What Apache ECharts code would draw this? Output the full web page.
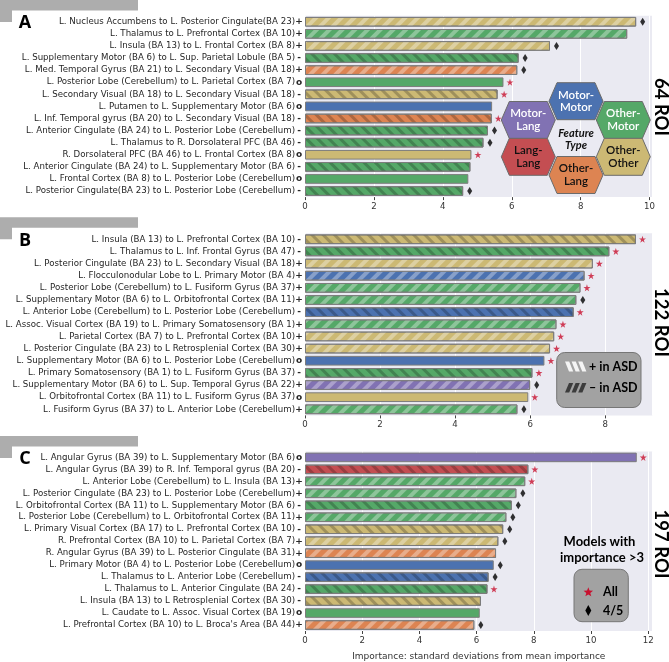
<!DOCTYPE html>
<html><head><meta charset="utf-8">
<script src="https://cdn.jsdelivr.net/npm/echarts@6/dist/echarts.min.js"></script>
<style>html,body{margin:0;padding:0;background:#fff}#c{width:669px;height:662px}</style>
</head><body><div id="c"></div><script>
// ---------- DATA ----------
const labelsA = [
 "L. Nucleus Accumbens to L. Posterior Cingulate(BA 23)",
 "L. Thalamus to L. Prefrontal Cortex (BA 10)",
 "L. Insula (BA 13) to L. Frontal Cortex (BA 8)",
 "L. Supplementary Motor (BA 6) to L. Sup. Parietal Lobule (BA 5)",
 "L. Med. Temporal Gyrus (BA 21) to L. Secondary Visual (BA 18)",
 "L. Posterior Lobe (Cerebellum) to L. Parietal Cortex (BA 7)",
 "L. Secondary Visual (BA 18) to L. Secondary Visual (BA 18)",
 "L. Putamen to L. Supplementary Motor (BA 6)",
 "L. Inf. Temporal gyrus (BA 20) to L. Secondary Visual (BA 18)",
 "L. Anterior Cingulate (BA 24) to L. Posterior Lobe (Cerebellum)",
 "L. Thalamus to R. Dorsolateral PFC (BA 46)",
 "R. Dorsolateral PFC (BA 46) to L. Frontal Cortex (BA 8)",
 "L. Anterior Cingulate (BA 24) to L. Supplementary Motor (BA 6)",
 "L. Frontal Cortex (BA 8) to L. Posterior Lobe (Cerebellum)",
 "L. Posterior Cingulate(BA 23) to L. Posterior Lobe (Cerebellum)"
];
const valuesA = [9.61, 9.35, 7.11, 6.20, 6.16, 5.76, 5.59, 5.43, 5.42, 5.31, 5.18, 4.83, 4.80, 4.74, 4.59];
const typesA  = ["OO","OM","OO","OM","OL","OM","OO","MM","OL","OM","OM","OO","OM","OM","OM"];
const signsA  = ["+","+","+","-","+","o","-","o","-","-","-","o","-","o","-"];
const markersA = ["d","","d","d","d","s","s","","s","d","d","s","","","d"];

const labelsB = [
 "L. Insula (BA 13) to L. Prefrontal Cortex (BA 10)",
 "L. Thalamus to L. Inf. Frontal Gyrus (BA 47)",
 "L. Posterior Cingulate (BA 23) to L. Secondary Visual (BA 18)",
 "L. Flocculonodular Lobe to L. Primary Motor (BA 4)",
 "L. Posterior Lobe (Cerebellum) to L. Fusiform Gyrus (BA 37)",
 "L. Supplementary Motor (BA 6) to L. Orbitofrontal Cortex (BA 11)",
 "L. Anterior Lobe (Cerebellum) to L. Posterior Lobe (Cerebellum)",
 "L. Assoc. Visual Cortex (BA 19) to L. Primary Somatosensory (BA 1)",
 "L. Parietal Cortex (BA 7) to L. Prefrontal Cortex (BA 10)",
 "L. Posterior Cingulate (BA 23) to L Retrosplenial Cortex (BA 30)",
 "L. Supplementary Motor (BA 6) to L. Posterior Lobe (Cerebellum)",
 "L. Primary Somatosensory (BA 1) to L. Fusiform Gyrus (BA 37)",
 "L. Supplementary Motor (BA 6) to L. Sup. Temporal Gyrus (BA 22)",
 "L. Orbitofrontal Cortex (BA 11) to L. Fusiform Gyrus (BA 37)",
 "L. Fusiform Gyrus (BA 37) to L. Anterior Lobe (Cerebellum)"
];
const valuesB = [8.82, 8.11, 7.67, 7.45, 7.34, 7.23, 7.16, 6.70, 6.64, 6.53, 6.38, 6.06, 6.00, 5.95, 5.66];
const typesB  = ["OO","OM","OO","MM","OM","OM","MM","OM","OO","OO","MM","OM","ML","OO","OM"];
const signsB  = ["-","-","+","+","+","+","-","+","+","+","o","-","+","o","+"];
const markersB = ["s","s","s","s","s","d","s","s","s","s","s","s","d","s","d"];

const labelsC = [
 "L. Angular Gyrus (BA 39) to L. Supplementary Motor (BA 6)",
 "L. Angular Gyrus (BA 39) to R. Inf. Temporal gyrus (BA 20)",
 "L. Anterior Lobe (Cerebellum) to L. Insula (BA 13)",
 "L. Posterior Cingulate (BA 23) to L. Posterior Lobe (Cerebellum)",
 "L. Orbitofrontal Cortex (BA 11) to L. Supplementary Motor (BA 6)",
 "L. Posterior Lobe (Cerebellum) to L. Orbitofrontal Cortex (BA 11)",
 "L. Primary Visual Cortex (BA 17) to L. Prefrontal Cortex (BA 10)",
 "R. Prefrontal Cortex (BA 10) to L. Parietal Cortex (BA 7)",
 "R. Angular Gyrus (BA 39) to L. Posterior Cingulate (BA 31)",
 "L. Primary Motor (BA 4) to L. Posterior Lobe (Cerebellum)",
 "L. Thalamus to L. Anterior Lobe (Cerebellum)",
 "L. Thalamus to L. Anterior Cingulate (BA 24)",
 "L. Insula (BA 13) to L Retrosplenial Cortex (BA 30)",
 "L. Caudate to L. Assoc. Visual Cortex (BA 19)",
 "L. Prefrontal Cortex (BA 10) to L. Broca's Area (BA 44)"
];
const valuesC = [11.60, 7.81, 7.70, 7.39, 7.23, 7.04, 6.93, 6.76, 6.68, 6.60, 6.42, 6.38, 6.15, 6.11, 5.92];
const typesC  = ["ML","LL","OM","OM","OM","OM","OO","OO","OL","MM","MM","OM","OO","OM","OL"];
const signsC  = ["o","-","+","+","-","+","-","+","+","o","-","-","-","o","+"];
const markersC = ["s","s","s","d","d","d","d","d","","d","d","s","","","d"];

const panelNames = ["A", "B", "C"];
const roiNames = ["64 ROI", "122 ROI", "197 ROI"];
const xMaxes = [10.07, 9.26, 12.15];
const xTitle = "Importance: standard deviations from mean importance";
const hexLegend = [
 {code:"MM", text:"Motor-\nMotor"}, {code:"ML", text:"Motor-\nLang"}, {code:"OM", text:"Other-\nMotor"},
 {code:"LL", text:"Lang-\nLang"}, {code:"OO", text:"Other-\nOther"}, {code:"OL", text:"Other-\nLang"}
];

// ---------- STYLE ----------
const typeColors = {MM:'#4c72b0', ML:'#8172b3', OM:'#55a868', LL:'#c44e52', OO:'#ccb974', OL:'#dd8452'};
const starPath = 'path://M50,2 L61.8,37.6 L99,37.6 L68.8,59.6 L80.3,95 L50,73 L19.7,95 L31.2,59.6 L1,37.6 L38.2,37.6 Z';
const decalPlus  = {symbol:'rect', symbolSize:1, dashArrayX:[1,0], dashArrayY:[4,4.5], rotation:-Math.PI/4, color:'rgba(255,255,255,0.33)'};
const decalMinus = {symbol:'rect', symbolSize:1, dashArrayX:[1,0], dashArrayY:[3,5], rotation:Math.PI/4, color:'rgba(0,0,0,0.22)'};

const grids = [
 {left:305, top:15.7, width:347, height:181.4},
 {left:305, top:233.2, width:347.5, height:182.2},
 {left:305, top:451.4, width:347.5, height:182}
];
const panels = [
 {labels:labelsA, values:valuesA, types:typesA, signs:signsA, markers:markersA},
 {labels:labelsB, values:valuesB, types:typesB, signs:signsB, markers:markersB},
 {labels:labelsC, values:valuesC, types:typesC, signs:signsC, markers:markersC}
];

const option = {animation:false, backgroundColor:'#fff', grid:[], xAxis:[], yAxis:[], series:[], graphic:[]};

panels.forEach((p, g) => {
 option.grid.push(Object.assign({show:true, backgroundColor:'#eaeaf2', borderWidth:0, containLabel:false}, grids[g]));
 const xa = {
  type:'value', gridIndex:g, min:0, max:xMaxes[g], interval:2,
  axisLine:{show:false},
  axisTick:{show:true, length:3, lineStyle:{color:'#444', width:1}},
  axisLabel:{fontFamily:'DejaVu Sans', fontSize:8.6, color:'#333', margin:5, showMaxLabel:false,
   formatter:v => (Math.abs(v % 2) < 1e-9 ? String(v) : '')},
  splitLine:{show:true, lineStyle:{color:'#ffffff', width:1}}
 };
 if (g === 2) {
  xa.name = xTitle; xa.nameLocation = 'middle'; xa.nameGap = 21;
  xa.nameTextStyle = {fontFamily:'DejaVu Sans', fontSize:9, color:'#333'};
 }
 option.xAxis.push(xa);
 option.yAxis.push({
  type:'category', gridIndex:g, data:p.labels, inverse:true,
  axisLine:{show:false}, axisTick:{show:false}, splitLine:{show:false},
  axisLabel:{margin:2, interval:0,
   formatter:(v, i) => '{t|' + v + '}{s|' + p.signs[i] + '}',
   rich:{
    t:{fontFamily:'DejaVu Sans', fontSize:8.65, color:'#262626'},
    s:{fontFamily:'DejaVu Sans', fontSize:9, fontWeight:'bold', color:'#262626', width:8, align:'center'}
   }}
 });
 option.series.push({
  type:'bar', xAxisIndex:g, yAxisIndex:g, barWidth:'80%', z:2,
  data:p.values.map((v, i) => {
   const st = {color:typeColors[p.types[i]], borderColor:'#7c7c7c', borderWidth:1};
   if (p.signs[i] === '+') st.decal = decalPlus;
   else if (p.signs[i] === '-') st.decal = decalMinus;
   return {value:v, itemStyle:st};
  })
 });
 const md = [];
 p.values.forEach((v, i) => {
  const m = p.markers[i];
  if (!m) return;
  md.push({value:[v, i], symbol: m === 's' ? starPath : 'diamond',
   symbolSize: m === 's' ? 7 : [5, 8],
   itemStyle:{color: m === 's' ? '#c8102e' : '#000'}});
 });
 option.series.push({type:'scatter', xAxisIndex:g, yAxisIndex:g, symbolOffset:[6.5, 0], z:3, data:md});
});

// ---------- GRAPHICS (annotations) ----------
const G = option.graphic;
function txt(x, y, text, font, fill, align, extra) {
 return Object.assign({type:'text', z:101, x:x, y:y, style:{text:text, font:font, fill:fill,
  align:align, verticalAlign:'middle', textAlign:align, textVerticalAlign:'middle'}}, extra || {});
}
const bracketTops = [0, 217.3, 436];
bracketTops.forEach((t, g) => {
 G.push({type:'polygon', shape:{points:[[0,t],[138,t],[138,t+10.5],[12,t+10.5],[12,t+22],[0,t+22]]},
  style:{fill:'#adadad'}});
 G.push(txt(25, t+23.2, panelNames[g], 'bold 18px "Open Sans"', '#000', 'center'));
});
const roiY = [107, 322.5, 544];
roiY.forEach((y, g) => {
 G.push(txt(660.5, y, roiNames[g], 'bold 18.5px Lato', '#000', 'center', {rotation:-Math.PI/2}));
});

// hexagon legend
const hexPos = {MM:[576,101.2], ML:[528.3,120], OM:[623.3,120], LL:[528.3,156.8], OO:[623.3,156.8], OL:[576,175]};
const hexText = {MM:'#fff', ML:'#fff', OM:'#fff', LL:'#111', OO:'#111', OL:'#111'};
hexLegend.forEach(h => {
 const [cx, cy] = hexPos[h.code];
 const hw = 27, fw = 19, hh = 18.5;
 G.push({type:'polygon', z:100, shape:{points:[[cx-hw,cy],[cx-fw,cy-hh],[cx+fw,cy-hh],[cx+hw,cy],[cx+fw,cy+hh],[cx-fw,cy+hh]]},
  style:{fill:typeColors[h.code], stroke:'#6b6b6b', lineWidth:1}});
 const t = txt(cx, cy, h.text, '600 11.5px Lato', hexText[h.code], 'center');
 t.style.lineHeight = 12.6;
 G.push(t);
});
const ft = txt(576, 139.5, 'Feature\nType', 'italic bold 11px Lato', '#111', 'center');
ft.style.lineHeight = 12.6;
G.push(ft);

// ASD legend
G.push({type:'rect', z:100, shape:{x:556.7, y:352.5, width:84.3, height:55, r:8}, style:{fill:'#a2a2a2', stroke:'#767676', lineWidth:1}});
for (let k = 0; k < 3; k++) {
 const x0 = 565 + 6.6 * k;
 G.push({type:'polygon', z:101, shape:{points:[[x0,361.5],[x0+4.2,361.5],[x0+8.2,371.5],[x0+4,371.5]]}, style:{fill:'#f4f4f4'}});
 G.push({type:'polygon', z:101, shape:{points:[[x0,392.5],[x0+4.2,392.5],[x0+8.2,383],[x0+4,383]]}, style:{fill:'#3c3c3c'}});
}
G.push(txt(589, 366.5, '+ in ASD', 'bold 12.5px Lato', '#000', 'left'));
G.push(txt(589, 388, '– in ASD', 'bold 12.5px Lato', '#000', 'left'));

// Models legend
G.push(txt(599.5, 541.5, 'Models with', 'bold 13px Lato', '#000', 'center'));
G.push(txt(602, 558, 'importance >3', 'bold 13px Lato', '#000', 'center'));
G.push({type:'rect', z:100, shape:{x:574, y:569.3, width:54.3, height:52.4, r:8}, style:{fill:'#a2a2a2', stroke:'#767676', lineWidth:1}});
const starPts = [];
for (let k = 0; k < 10; k++) {
 const a = -Math.PI / 2 + k * Math.PI / 5;
 const r = k % 2 === 0 ? 5 : 2.1;
 starPts.push([588.3 + r * Math.cos(a), 592.3 + r * Math.sin(a)]);
}
G.push({type:'polygon', z:101, shape:{points:starPts}, style:{fill:'#c8102e'}});
G.push({type:'polygon', z:101, shape:{points:[[588.3,605],[591.3,610.5],[588.3,616],[585.3,610.5]]}, style:{fill:'#000'}});
G.push(txt(603, 591.7, 'All', 'bold 12.5px Lato', '#000', 'left'));
G.push(txt(603, 610.5, '4/5', 'bold 12.5px Lato', '#000', 'left'));

const chart = echarts.init(document.getElementById('c'), null, {renderer:'canvas'});
chart.setOption(option);
</script></body></html>
